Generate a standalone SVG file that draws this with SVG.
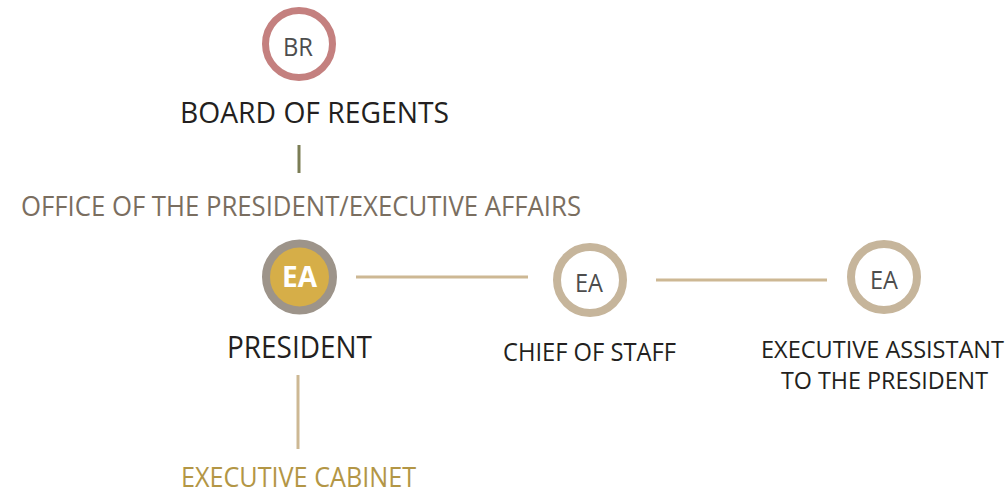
<svg xmlns="http://www.w3.org/2000/svg" width="1007" height="494" viewBox="0 0 1007 494">
<style>
text{font-family:"Open Sans","Noto Sans","Liberation Sans",sans-serif;}
.lbl{fill:#231f20;}
.ring{fill:#fff;stroke:#c6b59b;stroke-width:8;}
.ea{fill:#4d4d4d;font-size:26px;text-anchor:middle;}
.con{stroke:#cdb894;stroke-width:3;fill:none;}
</style>
<rect width="1007" height="494" fill="#fff"/>
<g id="connectors">
<line x1="299" y1="145" x2="299" y2="173" stroke="#7b7d55" stroke-width="3"/>
<line class="con" x1="356" y1="277" x2="528" y2="277"/>
<line class="con" x1="656" y1="280" x2="827" y2="280"/>
<line class="con" x1="298" y1="375" x2="298" y2="449"/>
</g>
<g id="board">
<circle cx="299" cy="44" r="33.5" fill="#fff" stroke="#c4807f" stroke-width="7"/>
<text x="298" y="56" class="ea" textLength="30" lengthAdjust="spacingAndGlyphs">BR</text>
<text x="180" y="123" class="lbl" font-size="30" textLength="269" lengthAdjust="spacingAndGlyphs">BOARD OF REGENTS</text>
</g>
<g id="office">
<text x="21" y="216" fill="#7a6e60" font-size="26.5" textLength="560" lengthAdjust="spacingAndGlyphs">OFFICE OF THE PRESIDENT/EXECUTIVE AFFAIRS</text>
</g>
<g id="president">
<circle cx="299.5" cy="277" r="33.5" fill="#d6ae48" stroke="#9d948a" stroke-width="8"/>
<text x="299.5" y="287" fill="#fff" font-size="29" font-weight="bold" text-anchor="middle" textLength="35" lengthAdjust="spacingAndGlyphs">EA</text>
<text x="227" y="358" class="lbl" font-size="30.5" textLength="145" lengthAdjust="spacingAndGlyphs">PRESIDENT</text>
</g>
<g id="chief">
<circle class="ring" cx="590" cy="280" r="33"/>
<text x="589" y="292" class="ea" textLength="28" lengthAdjust="spacingAndGlyphs">EA</text>
<text x="503" y="361" class="lbl" font-size="26" textLength="173" lengthAdjust="spacingAndGlyphs">CHIEF OF STAFF</text>
</g>
<g id="assistant">
<circle class="ring" cx="884" cy="277" r="33"/>
<text x="884" y="289" class="ea" textLength="28" lengthAdjust="spacingAndGlyphs">EA</text>
<text x="761" y="358" class="lbl" font-size="24" textLength="243" lengthAdjust="spacingAndGlyphs">EXECUTIVE ASSISTANT</text>
<text x="781" y="389" class="lbl" font-size="24" textLength="207" lengthAdjust="spacingAndGlyphs">TO THE PRESIDENT</text>
</g>
<g id="cabinet">
<text x="181" y="487" fill="#b39645" font-size="26.5" textLength="235" lengthAdjust="spacingAndGlyphs">EXECUTIVE CABINET</text>
</g>
</svg>
